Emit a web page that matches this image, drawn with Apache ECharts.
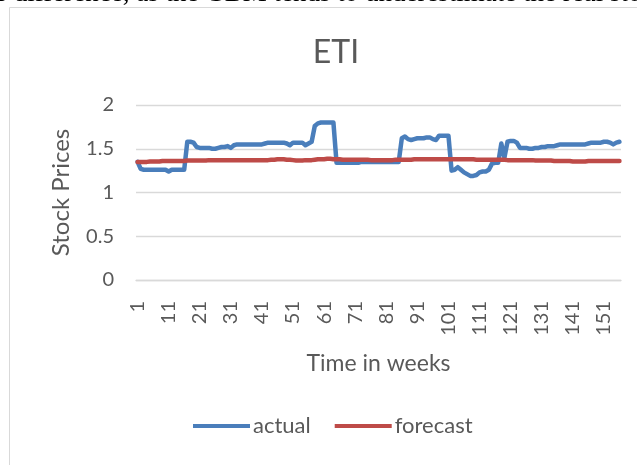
<!DOCTYPE html>
<html>
<head>
<meta charset="utf-8">
<script src="https://cdn.jsdelivr.net/npm/echarts@6/dist/echarts.min.js"></script>
<style>
  html, body { margin: 0; padding: 0; background: #fff; }
  #chart { width: 637px; height: 465px; }
</style>
</head>
<body>
<div id="chart"></div>
<script>
// 週次 (1..156)
const weeks = [];
for (let i = 1; i <= 156; i++) weeks.push(String(i));

// 實際股價
const actual = [
  1.35,1.27,1.26,1.26,1.26,1.26,1.26,1.26,1.26,1.26,
  1.24,1.26,1.26,1.26,1.26,1.26,1.58,1.58,1.57,1.52,
  1.51,1.51,1.51,1.51,1.50,1.50,1.51,1.52,1.52,1.53,
  1.51,1.54,1.55,1.55,1.55,1.55,1.55,1.55,1.55,1.55,
  1.55,1.56,1.57,1.57,1.57,1.57,1.57,1.57,1.56,1.54,
  1.57,1.57,1.57,1.57,1.54,1.56,1.58,1.76,1.79,1.80,
  1.80,1.80,1.80,1.80,1.34,1.34,1.34,1.34,1.34,1.34,
  1.34,1.34,1.35,1.35,1.35,1.35,1.35,1.35,1.35,1.35,
  1.35,1.35,1.35,1.35,1.35,1.62,1.64,1.61,1.60,1.61,
  1.62,1.62,1.62,1.63,1.63,1.61,1.60,1.65,1.65,1.65,
  1.65,1.25,1.26,1.29,1.26,1.23,1.21,1.19,1.19,1.20,
  1.23,1.24,1.24,1.26,1.33,1.34,1.34,1.56,1.40,1.58,
  1.59,1.59,1.57,1.51,1.51,1.51,1.50,1.50,1.51,1.51,
  1.52,1.52,1.53,1.53,1.53,1.54,1.55,1.55,1.55,1.55,
  1.55,1.55,1.55,1.55,1.55,1.56,1.57,1.57,1.57,1.57,
  1.58,1.58,1.57,1.55,1.57,1.58
];

// 預測股價
const forecast = [
  1.35,1.35,1.35,1.35,1.355,1.355,1.355,1.355,1.36,1.36,
  1.36,1.36,1.36,1.36,1.36,1.36,1.365,1.365,1.365,1.365,
  1.365,1.365,1.365,1.37,1.37,1.37,1.37,1.37,1.37,1.37,
  1.37,1.37,1.37,1.37,1.37,1.37,1.37,1.37,1.37,1.37,
  1.37,1.37,1.37,1.375,1.375,1.38,1.38,1.38,1.375,1.375,
  1.37,1.365,1.365,1.365,1.37,1.37,1.37,1.375,1.38,1.38,
  1.38,1.385,1.385,1.38,1.38,1.38,1.375,1.375,1.375,1.375,
  1.375,1.375,1.375,1.375,1.375,1.37,1.37,1.37,1.37,1.37,
  1.37,1.37,1.37,1.375,1.375,1.375,1.375,1.375,1.375,1.38,
  1.38,1.38,1.38,1.38,1.38,1.38,1.38,1.38,1.38,1.38,
  1.38,1.38,1.38,1.38,1.38,1.38,1.38,1.38,1.38,1.375,
  1.375,1.375,1.375,1.375,1.375,1.375,1.375,1.375,1.375,1.37,
  1.37,1.37,1.37,1.37,1.37,1.37,1.37,1.37,1.365,1.365,
  1.365,1.365,1.365,1.365,1.36,1.36,1.36,1.36,1.36,1.36,
  1.355,1.355,1.355,1.355,1.355,1.36,1.36,1.36,1.36,1.36,
  1.36,1.36,1.36,1.36,1.36,1.36
];

const seriesNames = ["actual", "forecast"];
const colors = ["#4a7ebb", "#be4b48"];
const textColor = "#595959";
const font = "Lato, 'Open Sans', sans-serif";

const chart = echarts.init(document.getElementById('chart'), null, { renderer: 'canvas' });

const option = {
  animation: false,
  backgroundColor: '#fff',
  title: {
    text: 'ETI',
    left: 331,
    top: 32,
    textAlign: 'center',
    textStyle: { color: textColor, fontSize: 32, fontWeight: 'normal', fontFamily: font }
  },
  graphic: [
    // 頁面上方被裁切的文字
    {
      type: 'text',
      left: -2,
      top: -20,
      style: {
        text: 'r difference, as the GBM tends to underestimate the real sto',
        fill: '#000',
        font: '27px "Liberation Serif", serif'
      },
      silent: true
    },
    // 圖表外框
    {
      type: 'rect',
      shape: { x: 9.5, y: 7.5, width: 700, height: 500 },
      style: { fill: 'none', stroke: '#d9d9d9', lineWidth: 1 },
      silent: true
    }
  ],
  legend: {
    data: seriesNames,
    top: 415,
    left: 193,
    padding: 0,
    itemWidth: 57,
    itemHeight: 4,
    itemGap: 24,
    icon: 'rect',
    textStyle: { color: textColor, fontSize: 22, fontFamily: font, padding: [0, 0, 0, -2] }
  },
  grid: {
    left: 136,
    right: 16,
    top: 105,
    bottom: 185
  },
  xAxis: {
    type: 'category',
    data: weeks,
    boundaryGap: true,
    name: 'Time in weeks',
    nameLocation: 'middle',
    nameGap: 72,
    nameTextStyle: { color: textColor, fontSize: 23, fontFamily: font },
    axisLine: { lineStyle: { color: '#d9d9d9', width: 1.3 } },
    axisTick: { show: false },
    axisLabel: {
      interval: 9,
      rotate: 90,
      margin: 21,
      color: textColor,
      fontSize: 20,
      fontFamily: font
    }
  },
  yAxis: {
    type: 'value',
    min: 0,
    max: 2,
    interval: 0.5,
    name: 'Stock Prices',
    nameLocation: 'middle',
    nameGap: 63,
    nameTextStyle: { color: textColor, fontSize: 24, fontFamily: font },
    axisLine: { show: false },
    axisTick: { show: false },
    axisLabel: { color: textColor, fontSize: 20, fontFamily: font, margin: 22 },
    splitLine: { lineStyle: { color: '#d9d9d9', width: 1.3 } }
  },
  series: [
    {
      name: seriesNames[0],
      type: 'line',
      data: actual,
      showSymbol: false,
      symbol: 'none',
      lineStyle: { color: colors[0], width: 4.5, cap: 'round', join: 'round' },
      itemStyle: { color: colors[0] }
    },
    {
      name: seriesNames[1],
      type: 'line',
      data: forecast,
      showSymbol: false,
      symbol: 'none',
      lineStyle: { color: colors[1], width: 4.5, cap: 'round', join: 'round' },
      itemStyle: { color: colors[1] }
    }
  ]
};

chart.setOption(option);
</script>
</body>
</html>
